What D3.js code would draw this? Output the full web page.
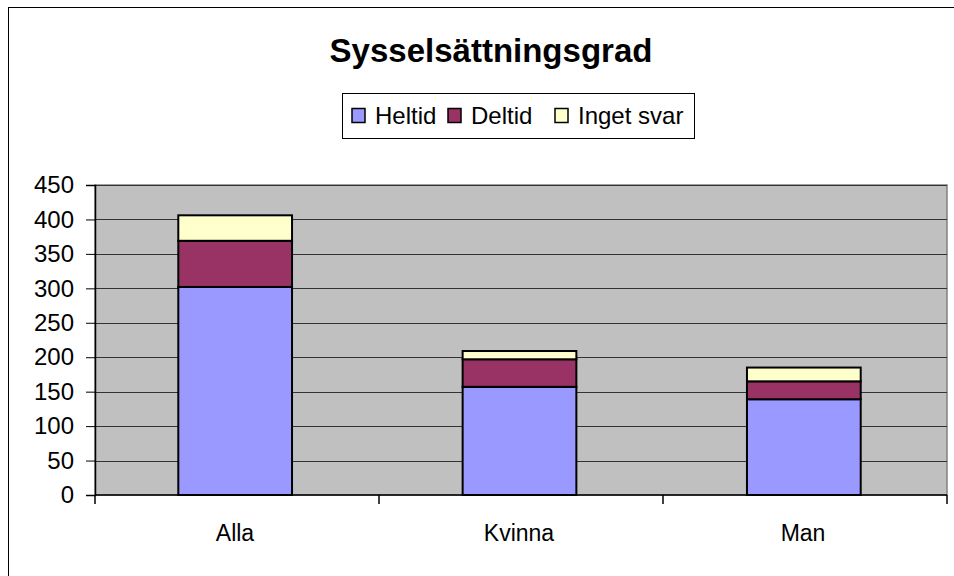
<!DOCTYPE html>
<html>
  <head>
    <meta charset="utf-8">
    <title>Sysselsättningsgrad</title>
    <script src="https://cdn.jsdelivr.net/npm/d3@7"></script>
    <style>
      body { margin: 0; background: #fff; }
      text { font-family: "Liberation Sans", Arial, sans-serif; fill: #000; }
    </style>
  </head>
  <body>
    <svg id="chart" width="954" height="576"></svg>
    <script>
      var categories = ["Alla", "Kvinna", "Man"];
      var seriesNames = ["Heltid", "Deltid", "Inget svar"];
      var heltid = [302, 157, 139];
      var deltid = [67, 40, 26];
      var ingetSvar = [37, 12, 20];
      var yTicks = [0, 50, 100, 150, 200, 250, 300, 350, 400, 450];
      var colors = ["#9999ff", "#993366", "#ffffcc"];

      var rows = categories.map(function(c, i) {
        return {cat: c, "Heltid": heltid[i], "Deltid": deltid[i], "Inget svar": ingetSvar[i]};
      });

      var svg = d3.select("#chart");
      var plot = {left: 95, right: 947, top: 185, bottom: 495};

      // chart frame (runs off the right and bottom edge)
      svg.append("rect")
        .attr("x", 8.5).attr("y", 7.5)
        .attr("width", 1000).attr("height", 700)
        .attr("fill", "#fff").attr("stroke", "#000").attr("stroke-width", 1);

      svg.append("text")
        .attr("x", 491).attr("y", 62)
        .attr("text-anchor", "middle")
        .style("font-size", "33px").style("font-weight", "bold")
        .text("Sysselsättningsgrad");

      var x = d3.scaleBand().domain(categories).range([plot.left - 2, plot.right - 1]).paddingInner(0.6).paddingOuter(0.3);
      var xb = d3.scaleBand().domain(categories).range([plot.left, plot.right]);
      var y = d3.scaleLinear().domain([0, 450]).range([plot.bottom, plot.top]);

      svg.append("rect")
        .attr("x", plot.left).attr("y", plot.top)
        .attr("width", plot.right - plot.left).attr("height", plot.bottom - plot.top)
        .attr("fill", "#c0c0c0").attr("stroke", "#808080").attr("stroke-width", 1.5);

      // gridlines
      svg.append("g")
        .selectAll("line")
        .data(yTicks.slice(1))
        .join("line")
        .attr("x1", plot.left).attr("x2", plot.right)
        .attr("y1", function(d) { return Math.round(y(d)) + 0.5; })
        .attr("y2", function(d) { return Math.round(y(d)) + 0.5; })
        .attr("stroke", "#333").attr("stroke-width", 1);

      var stack = d3.stack().keys(seriesNames)(rows);

      svg.append("g")
        .selectAll("g")
        .data(stack)
        .join("g")
        .attr("fill", function(d, i) { return colors[i]; })
        .selectAll("rect")
        .data(function(d) { return d; })
        .join("rect")
        .attr("x", function(d) { return x(d.data.cat); })
        .attr("width", x.bandwidth())
        .attr("y", function(d) { return y(d[1]); })
        .attr("height", function(d) { return y(d[0]) - y(d[1]); })
        .attr("stroke", "#000").attr("stroke-width", 2);

      // y axis
      var yAxis = svg.append("g")
        .attr("transform", "translate(" + plot.left + ",0)")
        .call(d3.axisLeft(y).tickValues(yTicks).tickSize(9).tickPadding(12));
      yAxis.selectAll("text").style("font-size", "24px");
      yAxis.select(".domain").attr("stroke-width", 1.5);

      // x axis
      var xAxis = svg.append("g")
        .attr("transform", "translate(0," + plot.bottom + ")");
      xAxis.append("line")
        .attr("x1", plot.left).attr("x2", plot.right)
        .attr("stroke", "#000").attr("stroke-width", 1.5);
      xAxis.selectAll(".tk")
        .data(categories.concat(["end"]))
        .join("line")
        .attr("class", "tk")
        .attr("x1", function(d, i) { return plot.left + i * xb.bandwidth(); })
        .attr("x2", function(d, i) { return plot.left + i * xb.bandwidth(); })
        .attr("y1", 0).attr("y2", 9)
        .attr("stroke", "#000").attr("stroke-width", 1.5);
      xAxis.selectAll(".lbl")
        .data(categories)
        .join("text")
        .attr("class", "lbl")
        .attr("x", function(d) { return xb(d) + xb.bandwidth() / 2 - 2; })
        .attr("y", 46)
        .attr("text-anchor", "middle")
        .style("font-size", "23px")
        .text(function(d) { return d; });

      // legend
      var legend = svg.append("g");
      legend.append("rect")
        .attr("x", 342.5).attr("y", 93.5).attr("width", 352).attr("height", 45)
        .attr("fill", "#fff").attr("stroke", "#000").attr("stroke-width", 1);
      var legX = [352, 448, 555];
      var items = legend.selectAll(".item")
        .data(seriesNames)
        .join("g")
        .attr("class", "item")
        .attr("transform", function(d, i) { return "translate(" + legX[i] + ",0)"; });
      items.append("rect")
        .attr("x", 0).attr("y", 108.5).attr("width", 13).attr("height", 14)
        .attr("fill", function(d, i) { return colors[i]; })
        .attr("stroke", "#000").attr("stroke-width", 1.5);
      items.append("text")
        .attr("x", 23).attr("y", 124)
        .style("font-size", "24px")
        .text(function(d) { return d; });
    </script>
  </body>
</html>
